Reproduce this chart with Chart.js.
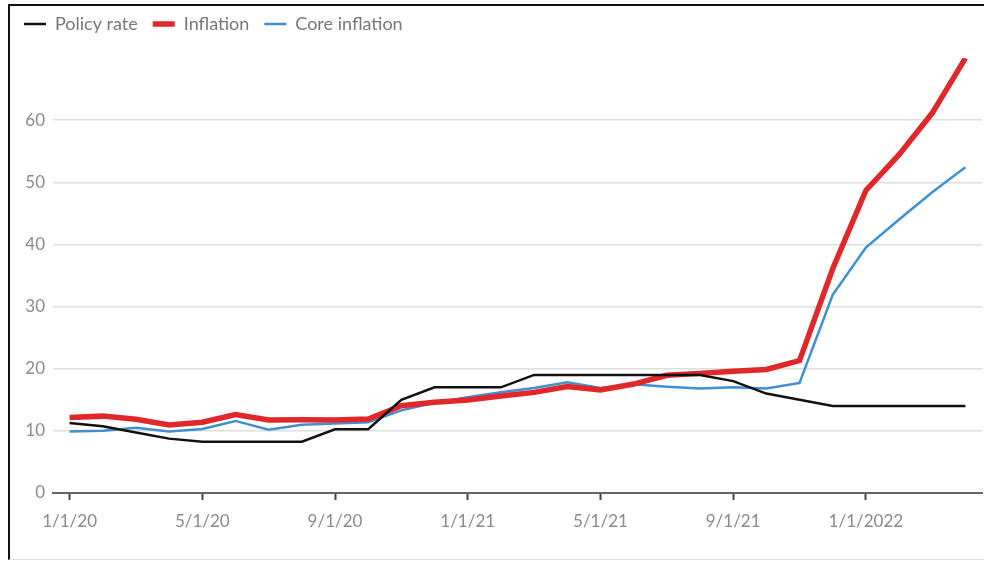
<!DOCTYPE html>
<html lang="en">
<head>
  <meta charset="UTF-8">
  <title>Policy rate and inflation</title>
  <script src="https://cdn.jsdelivr.net/npm/chart.js"></script>
  <style>
    html, body {
      margin: 0;
      padding: 0;
      background: #fff;
    }
    .frame {
      position: absolute;
      left: 8px;
      top: 4px;
      width: 974px;
      height: 553px;
      border-left: 2px solid #111;
      border-top: 2px solid #111;
      border-bottom: 1px solid #e2e2e2;
    }
    .chart-box {
      position: absolute;
      left: 0;
      top: 0;
      width: 990px;
      height: 562px;
    }
  </style>
</head>
<body>
<div class="frame"></div>
<div class="chart-box">
  <canvas id="rateChart"></canvas>
</div>

<script>
  // Data (monthly, Jan 2020 - Apr 2022)
  const months = [
    '1/1/20', '2/1/20', '3/1/20', '4/1/20', '5/1/20', '6/1/20', '7/1/20', '8/1/20', '9/1/20', '10/1/20', '11/1/20', '12/1/20',
    '1/1/21', '2/1/21', '3/1/21', '4/1/21', '5/1/21', '6/1/21', '7/1/21', '8/1/21', '9/1/21', '10/1/21', '11/1/21', '12/1/21',
    '1/1/2022', '2/1/2022', '3/1/2022', '4/1/2022'
  ];
  const xTickLabels = ['1/1/20', '5/1/20', '9/1/20', '1/1/21', '5/1/21', '9/1/21', '1/1/2022'];
  const policyRate = [11.25, 10.75, 9.75, 8.75, 8.25, 8.25, 8.25, 8.25, 10.25, 10.25, 15, 17,
                      17, 17, 19, 19, 19, 19, 19, 19, 18, 16, 15, 14, 14, 14, 14, 14];
  const inflation = [12.15, 12.37, 11.86, 10.94, 11.39, 12.62, 11.76, 11.77, 11.75, 11.89, 14.03, 14.6,
                     14.97, 15.61, 16.19, 17.14, 16.59, 17.53, 18.95, 19.25, 19.58, 19.89, 21.31, 36.08,
                     48.69, 54.44, 61.14, 69.97];
  const coreInflation = [9.9, 10.0, 10.5, 9.9, 10.3, 11.6, 10.2, 11.0, 11.2, 11.4, 13.3, 14.5,
                         15.4, 16.2, 16.9, 17.8, 16.9, 17.5, 17.1, 16.8, 17.0, 16.8, 17.7, 31.9,
                         39.5, 44.0, 48.4, 52.4];
  const yTicks = [0, 10, 20, 30, 40, 50, 60];

  const tickFont = { family: 'Lato', size: 17 };

  // keep the legend block at a fixed height so the plot top lands where it should
  const legendHeight = {
    id: 'legendHeight',
    beforeInit(chart) {
      const fit = chart.legend.fit;
      chart.legend.fit = function () {
        fit.call(this);
        this.height = 58;
      };
    }
  };

  const ctx = document.getElementById('rateChart').getContext('2d');
  new Chart(ctx, {
    type: 'line',
    data: {
      labels: months,
      datasets: [
        {
          label: 'Policy rate',
          data: policyRate,
          borderColor: '#111111',
          backgroundColor: '#111111',
          borderWidth: 2.5,
          pointRadius: 0,
          tension: 0
        },
        {
          label: 'Inflation',
          data: inflation,
          borderColor: '#e0282a',
          backgroundColor: '#e0282a',
          borderWidth: 5.5,
          pointRadius: 0,
          tension: 0
        },
        {
          label: 'Core inflation',
          data: coreInflation,
          borderColor: '#3f8fd2',
          backgroundColor: '#3f8fd2',
          borderWidth: 2.5,
          pointRadius: 0,
          tension: 0
        }
      ]
    },
    options: {
      responsive: true,
      maintainAspectRatio: false,
      animation: false,
      layout: {
        padding: { left: 9, right: 8, top: 0, bottom: 0 }
      },
      scales: {
        x: {
          offset: true,
          grid: {
            drawOnChartArea: false,
            drawTicks: true,
            tickLength: 7,
            tickWidth: 2,
            tickColor: (c) => (c.index % 4 === 0 ? '#444' : 'rgba(0,0,0,0)')
          },
          border: { color: '#666', width: 2 },
          ticks: {
            autoSkip: false,
            maxRotation: 0,
            padding: 11,
            color: '#8a8a8a',
            font: tickFont,
            callback: (value, index) => (index % 4 === 0 ? xTickLabels[index / 4] : '')
          },
          afterFit: (scale) => { scale.height = 69; }
        },
        y: {
          min: 0,
          max: 70,
          afterBuildTicks: (scale) => {
            scale.ticks = yTicks.map(v => ({ value: v }));
          },
          grid: {
            color: '#dedede',
            lineWidth: 1.5,
            drawTicks: false
          },
          border: { display: false },
          ticks: {
            padding: 8,
            color: '#8a8a8a',
            font: tickFont
          },
          afterFit: (scale) => { scale.width = 44; }
        }
      },
      plugins: {
        legend: {
          position: 'top',
          align: 'start',
          labels: {
            usePointStyle: true,
            pointStyle: 'line',
            pointStyleWidth: 22,
            boxWidth: 22,
            padding: 15,
            color: '#777',
            font: { family: 'Lato', size: 18 }
          }
        },
        tooltip: { enabled: false }
      }
    },
    plugins: [legendHeight]
  });
</script>

</body>
</html>
